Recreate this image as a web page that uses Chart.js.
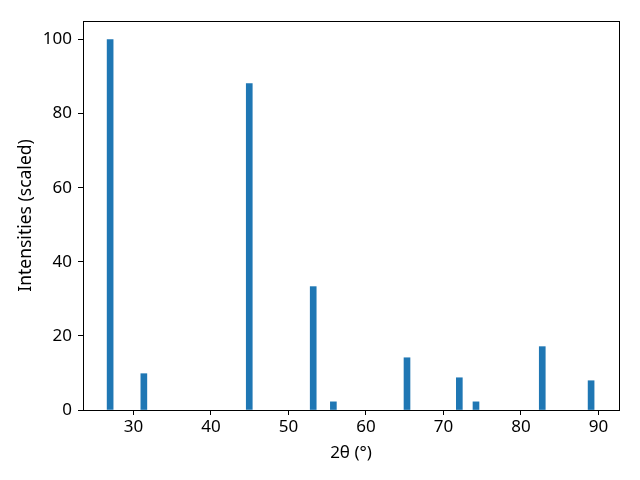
<!DOCTYPE html>
<html lang="en">
<head>
    <meta charset="UTF-8">
    <title>XRD pattern</title>
    <script src="https://cdn.jsdelivr.net/npm/chart.js"></script>
    <style>
        html, body { margin: 0; padding: 0; background: #fff; }
        #wrap { width: 640px; height: 480px; }
    </style>
</head>
<body>
    <div id="wrap"><canvas id="xrdChart" width="640" height="480"></canvas></div>

    <script>
        // peak positions (2theta, degrees) and scaled intensities
        const peakAngles = [27.0, 31.35, 44.95, 53.2, 55.8, 65.3, 72.05, 74.2, 82.75, 89.05];
        const peakIntensities = [100, 9.8, 88.1, 33.3, 2.2, 14.1, 8.7, 2.2, 17.1, 7.9];
        const xTickValues = [30, 40, 50, 60, 70, 80, 90];
        const yTickValues = [0, 20, 40, 60, 80, 100];

        const fontFamily = "'Noto Sans', 'Open Sans', sans-serif";

        // black box around the plot area, like matplotlib's spines
        const frame = {
            id: 'frame',
            afterDraw(chart) {
                const a = chart.chartArea;
                const c = chart.ctx;
                c.save();
                c.strokeStyle = '#000';
                c.lineWidth = 1;
                c.strokeRect(Math.round(a.left) + 0.5, Math.round(a.top) + 0.5,
                    Math.round(a.right - a.left), Math.round(a.bottom - a.top));
                c.restore();
            }
        };

        const ctx = document.getElementById("xrdChart").getContext("2d");
        new Chart(ctx, {
            type: 'bar',
            data: {
                datasets: [{
                    data: peakAngles.map((x, i) => ({ x: x, y: peakIntensities[i] })),
                    backgroundColor: '#1f77b4',
                    borderWidth: 0,
                    barThickness: 6
                }]
            },
            options: {
                responsive: false,
                animation: false,
                layout: { padding: { top: 21, right: 21, left: 12, bottom: 0 } },
                plugins: { legend: { display: false }, tooltip: { enabled: false } },
                scales: {
                    x: {
                        type: 'linear',
                        min: 23.5,
                        max: 92.65,
                        offset: false,
                        afterBuildTicks: s => { s.ticks = xTickValues.map(v => ({ value: v })); },
                        afterFit: s => { s.height = 70; },
                        grid: { display: true, offset: false, drawOnChartArea: false, drawTicks: true, tickLength: 5, color: '#000' },
                        border: { display: true, color: '#000' },
                        ticks: { color: '#000', font: { family: fontFamily, size: 17 }, padding: 2, maxRotation: 0 },
                        title: { display: true, text: '2θ (°)', color: '#000', font: { family: fontFamily, size: 17 }, padding: { top: 4, bottom: 17 } }
                    },
                    y: {
                        min: 0,
                        max: 105,
                        afterBuildTicks: s => { s.ticks = yTickValues.map(v => ({ value: v })); },
                        afterFit: s => { s.width = 71; },
                        grid: { display: true, drawOnChartArea: false, drawTicks: true, tickLength: 5, color: '#000' },
                        border: { display: true, color: '#000' },
                        ticks: { color: '#000', font: { family: fontFamily, size: 17 }, padding: 6 },
                        title: { display: true, text: 'Intensities (scaled)', color: '#000', font: { family: fontFamily, size: 17.5 }, padding: { top: 4, bottom: 4 } }
                    }
                }
            },
            plugins: [frame]
        });
    </script>
</body>
</html>
